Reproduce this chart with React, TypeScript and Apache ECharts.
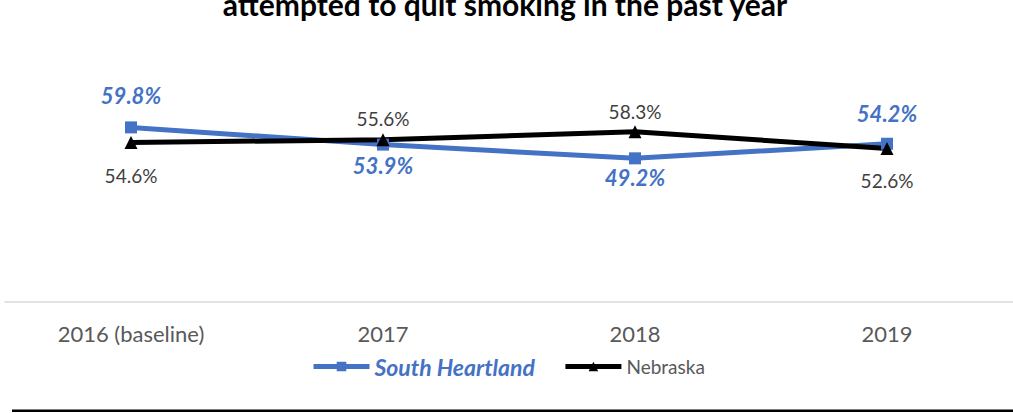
import React, { useEffect, useRef } from "react";
import * as echarts from "echarts";

const titleText = "attempted to quit smoking in the past year";
const categories = ["2016 (baseline)", "2017", "2018", "2019"];
const southHeartland = [59.8, 53.9, 49.2, 54.2];
const nebraska = [54.6, 55.6, 58.3, 52.6];
const seriesNames = ["South Heartland", "Nebraska"];

// label vertical offsets (px), styling only
const shOffsets = [-32, 21, 19, -30];
const neOffsets = [33, -21, -20, 32];

const BLUE = "#4472C4";
const FONT = "Lato, 'Noto Sans', sans-serif";

export default function App() {
  const ref = useRef<HTMLDivElement>(null);
  useEffect(() => {
    if (!ref.current) return;
    const chart = echarts.init(ref.current, null, { renderer: "svg" });
    chart.setOption({
      animation: false,
      textStyle: { fontFamily: FONT },
      grid: { left: 5, right: 0, top: 10, bottom: 111, containLabel: false },
      graphic: [
        {
          type: "text",
          x: 505,
          y: -11,
          style: {
            text: titleText,
            font: "bold 30px " + FONT,
            fill: "#000000",
            textAlign: "center",
            textVerticalAlign: "top",
          },
        },
        {
          type: "rect",
          shape: { x: 12, y: 409.5, width: 1001, height: 2.5 },
          style: { fill: "#000000" },
        },
      ],
      legend: {
        left: 306,
        top: 350,
        itemWidth: 56,
        itemHeight: 12,
        itemGap: 28,
        data: [
          {
            name: seriesNames[0],
            lineStyle: { width: 5 },
            textStyle: { color: BLUE, fontWeight: "bold", fontStyle: "italic", fontSize: 23, fontFamily: FONT },
          },
          {
            name: seriesNames[1],
            lineStyle: { width: 5 },
            textStyle: { color: "#595959", fontSize: 19, fontFamily: FONT },
          },
        ],
      },
      xAxis: {
        type: "category",
        data: categories,
        boundaryGap: true,
        axisLine: { show: true, lineStyle: { color: "#D9D9D9", width: 1.5 } },
        axisTick: { show: false },
        axisLabel: { color: "#595959", fontSize: 22, margin: 20, fontFamily: FONT },
      },
      yAxis: {
        type: "value",
        min: 0,
        max: 100,
        show: false,
        splitLine: { show: false },
      },
      series: [
        {
          name: seriesNames[0],
          type: "line",
          data: southHeartland.map((v, i) => ({
            value: v,
            label: { offset: [0, shOffsets[i]] },
          })),
          symbol: "rect",
          symbolSize: 12,
          lineStyle: { color: BLUE, width: 5 },
          itemStyle: { color: BLUE },
          label: {
            show: true,
            position: "inside",
            formatter: (p: any) => p.value.toFixed(1) + "%",
            color: BLUE,
            fontWeight: "bold",
            fontStyle: "italic",
            fontSize: 22,
            fontFamily: FONT,
          },
        },
        {
          name: seriesNames[1],
          type: "line",
          data: nebraska.map((v, i) => ({
            value: v,
            label: { offset: [0, neOffsets[i]] },
          })),
          symbol: "triangle",
          symbolSize: 13,
          lineStyle: { color: "#000000", width: 5 },
          itemStyle: { color: "#000000" },
          label: {
            show: true,
            position: "inside",
            formatter: (p: any) => p.value.toFixed(1) + "%",
            color: "#404040",
            fontSize: 19,
            fontFamily: FONT,
          },
        },
      ],
    });
    return () => chart.dispose();
  }, []);
  return (
    <div
      ref={ref}
      style={{ position: "fixed", left: 0, top: 0, width: 1013, height: 413, background: "#ffffff" }}
    />
  );
}
